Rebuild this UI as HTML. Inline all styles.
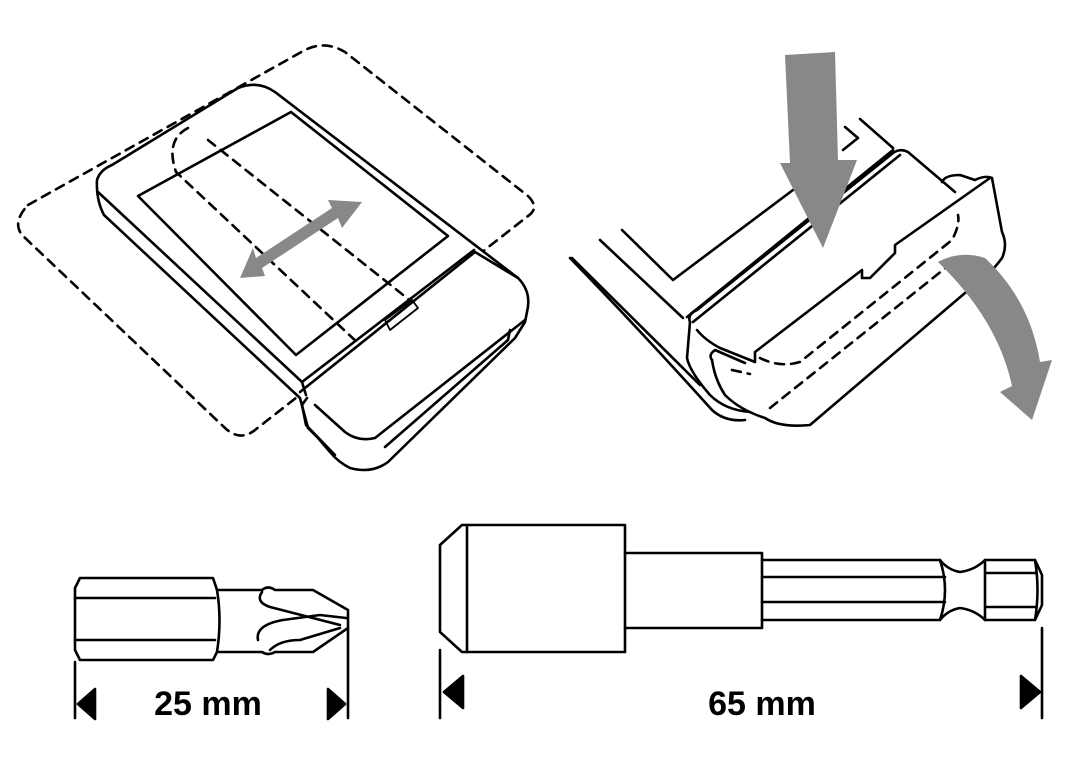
<!DOCTYPE html>
<html><head><meta charset="utf-8"><style>html,body{margin:0;padding:0;background:#fff}svg{display:block}</style></head>
<body>
<svg width="1080" height="768" viewBox="0 0 1080 768" xmlns="http://www.w3.org/2000/svg" fill="none" stroke="#000" stroke-width="2.6" stroke-linejoin="round" stroke-linecap="round">
<!-- LEFT DEVICE -->
<path d="M28 205 L305 50 Q325 40 345 52 L528 196 Q540 208 528 216 L255 430 Q240 442 225 428 L22 235 Q12 222 28 205 Z" stroke-dasharray="9 7"/>
<path d="M97 180 Q100 170 112 165 L238 88 Q258 80 275 92 L518 278 Q532 292 527 312 L525 322 Q520 330 515 338 L388 462 Q372 474 350 468 Q338 462 330 452 L318 438 L308 428 L300 398 L104 215 Q96 200 97 180 Z" fill="#fff"/>
<path d="M98 192 L302 382 L474 250"/>
<path d="M300 392 L475 252 L518 278"/>
<path d="M307 398 L302 405 L306 425 L335 455"/>
<path d="M315 405 L345 432 Q358 442 375 438 L525 320"/>
<path d="M385 447 L508 340 L510 330"/>
<path d="M302 382 L306 395"/>
<path d="M138 196 L291 112 L448 236 L296 355 Z"/>
<path d="M188 128 Q165 140 176 172 L360 345" stroke-dasharray="9 7"/>
<path d="M208 140 L412 302" stroke-dasharray="9 7"/>
<path d="M390 330 L418 308 L412 300 L385 320 Z" stroke-width="1.8"/>
<path d="M240 278 L265 276 L262 268 L338 218 L342 228 L362 202 L328 200 L332 208 L256 258 L253 248 Z" fill="#888" stroke="none"/>
<!-- RIGHT DEVICE -->
<path d="M572 258 L700 385"/>
<path d="M600 240 L683 318"/>
<path d="M622 230 L673 280 L793 190"/>
<path d="M845 127 L858 138 L843 150"/>
<path d="M860 119 L893 148"/>
<path d="M687 317 L893 150"/>
<path d="M693 322 L900 155"/>
<path d="M690 322 Q687 314 697 310 L893 153 Q900 148 908 152 L955 192"/>
<path d="M690 322 L687 358 Q690 372 710 395 Q725 410 750 412"/>
<path d="M570 258 Q640 330 712 410 Q725 422 745 420"/>
<path d="M697 330 Q705 340 720 348 L755 362 L755 352 L862 270 L862 278 L870 278 L895 253 L895 245 L990 178"/>
<path d="M712 360 Q708 355 715 350 L745 363" />
<path d="M712 360 Q715 380 725 395 Q740 410 765 418 Q780 428 810 425 L965 293 Q990 275 1002 258 Q1008 245 1002 232 L992 178 Q985 175 975 180 L960 175 Q945 175 942 182"/>
<path d="M760 358 Q780 368 800 362 L952 240 Q960 225 958 215" stroke-dasharray="9 7"/>
<path d="M732 370 L750 374" stroke-dasharray="9 7"/>
<path d="M770 408 L958 258" stroke-dasharray="9 7"/>
<path d="M785 55 L835 52 L838 160 L857 160 L823 248 L780 163 L790 163 Z" fill="#888" stroke="none"/>
<path d="M938 262 Q960 250 985 258 Q1030 300 1040 362 L1052 360 L1032 420 L1000 392 L1012 386 Q998 320 938 262 Z" fill="#888" stroke="none"/>
<!-- BIT 1 -->
<path d="M80 578 L213 578 L217 590 L262 590 Q268 585 275 590 L313 590 L348 610 L348 628 L313 652 L275 652 Q268 656 262 652 L217 652 L213 660 L80 660 L75 650 L75 588 Z"/>
<path d="M75 598 L215 598 M75 640 L215 640"/>
<path d="M217 590 Q222 620 217 652"/>
<path d="M262 592 Q255 602 270 607 L340 625"/>
<path d="M258 640 Q255 625 283 620 L320 615 L346 618"/>
<path d="M270 650 Q280 640 300 640 L340 628"/>
<path d="M75 662 L75 718 M348 628 L348 718"/>
<path d="M78 704 L95 689 L95 719 Z" fill="#000"/>
<path d="M345 704 L328 689 L328 719 Z" fill="#000"/>
<text x="208" y="715" font-family="Liberation Sans, sans-serif" font-weight="bold" font-size="34" text-anchor="middle" fill="#000" stroke="none">25 mm</text>
<!-- HOLDER -->
<path d="M440 545 L462 525 L625 525 L625 652 L462 652 L440 632 Z"/>
<path d="M467 525 L467 652"/>
<path d="M625 553 L762 553 L762 628 L625 628"/>
<path d="M762 560 L940 560 Q948 570 960 572 Q975 570 985 560 L1035 560 L1042 575 L1042 605 L1035 620 L985 620 Q975 610 960 608 Q948 610 940 620 L762 620"/>
<path d="M762 577 L945 577 M762 602 L945 602"/>
<path d="M940 560 Q950 590 940 620 M985 560 L985 620 M1035 560 Q1040 590 1035 620 M985 573 L1035 573 M985 607 L1035 607"/>
<path d="M440 650 L440 718 M1042 628 L1042 718"/>
<path d="M444 692 L463 676 L463 708 Z" fill="#000"/>
<path d="M1040 692 L1021 676 L1021 708 Z" fill="#000"/>
<text x="762" y="715" font-family="Liberation Sans, sans-serif" font-weight="bold" font-size="34" text-anchor="middle" fill="#000" stroke="none">65 mm</text>
</svg>
</body></html>
